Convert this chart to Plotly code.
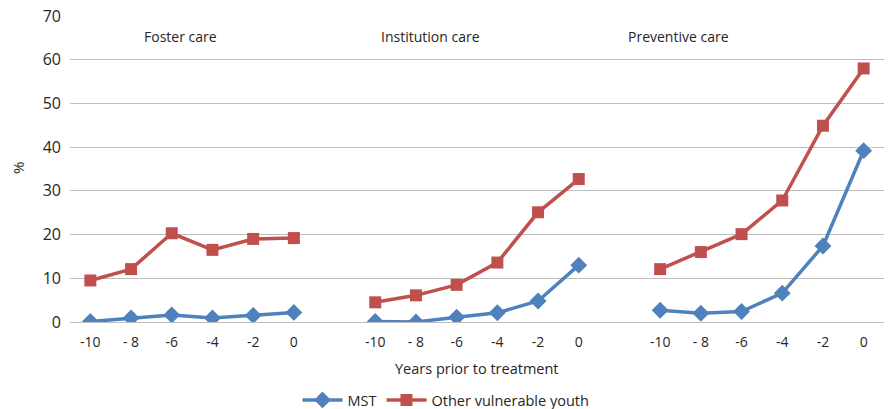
import plotly.graph_objects as go

# ---- data ----
years = ["-10", "- 8", "-6", "-4", "-2", "0"]
groups = ["Foster care", "Institution care", "Preventive care"]

mst_foster = [0.1, 0.9, 1.6, 0.9, 1.5, 2.2]
mst_institution = [0.1, 0.0, 1.1, 2.1, 4.8, 13.0]
mst_preventive = [2.7, 2.0, 2.4, 6.6, 17.4, 39.2]

other_foster = [9.5, 12.1, 20.3, 16.5, 19.0, 19.2]
other_institution = [4.5, 6.1, 8.5, 13.6, 25.1, 32.7]
other_preventive = [12.1, 16.0, 20.1, 27.8, 44.9, 58.0]

series_names = ["MST", "Other vulnerable youth"]
y_ticks = [0, 10, 20, 30, 40, 50, 60, 70]

# ---- build combined category positions (one empty slot between groups) ----
def combine(parts):
    xs, ys = [], []
    pos = 0
    for gi, part in enumerate(parts):
        if gi > 0:
            xs.append(pos)
            ys.append(None)
            pos += 1
        for v in part:
            xs.append(pos)
            ys.append(v)
            pos += 1
    return xs, ys

x_mst, y_mst = combine([mst_foster, mst_institution, mst_preventive])
x_oth, y_oth = combine([other_foster, other_institution, other_preventive])

tickvals, ticktext = [], []
pos = 0
for gi in range(len(groups)):
    if gi > 0:
        pos += 1
    for yl in years:
        tickvals.append(pos)
        ticktext.append(yl)
        pos += 1

blue = "#4F81BD"
red = "#C0504D"
txt = "#262626"
font_family = "Open Sans, Liberation Sans, sans-serif"

fig = go.Figure()
fig.add_trace(go.Scatter(
    x=x_mst, y=y_mst, name=series_names[0], mode="lines+markers",
    line=dict(color=blue, width=3.5),
    marker=dict(symbol="diamond", size=13, color=blue),
    connectgaps=False,
))
fig.add_trace(go.Scatter(
    x=x_oth, y=y_oth, name=series_names[1], mode="lines+markers",
    line=dict(color=red, width=3.5),
    marker=dict(symbol="square", size=12, color=red),
    connectgaps=False,
))

L, T, PW, PH = 70, 16, 814, 306
group_title_x = [180, 430, 678]
annotations = []
for g, gx in zip(groups, group_title_x):
    annotations.append(dict(
        text=g, xref="paper", yref="paper", x=(gx - L) / PW, y=(T + PH - 37) / PH,
        showarrow=False, xanchor="center", yanchor="middle",
        font=dict(size=14, color=txt, family=font_family),
    ))
annotations.append(dict(
    text="Years prior to treatment", xref="paper", yref="paper",
    x=(477 - L) / PW, y=-(368 - T - PH) / PH, showarrow=False,
    xanchor="center", yanchor="middle",
    font=dict(size=14.5, color=txt, family=font_family),
))
annotations.append(dict(
    text="%", xref="paper", yref="paper", x=-(L - 18) / PW, y=(T + PH - 168) / PH,
    showarrow=False, textangle=-90, xanchor="center", yanchor="middle",
    font=dict(size=15, color=txt, family=font_family),
))

fig.update_layout(
    width=889, height=409,
    margin=dict(l=L, r=889 - L - PW, t=T, b=409 - T - PH, autoexpand=False),
    paper_bgcolor="white", plot_bgcolor="white",
    font=dict(family=font_family, color=txt),
    showlegend=True,
    legend=dict(
        orientation="h", xref="paper", yref="paper",
        x=(446 - L) / PW, y=-(400 - T - PH) / PH, xanchor="center", yanchor="middle",
        font=dict(size=14.5, color=txt), itemwidth=40,
        traceorder="normal",
    ),
    annotations=annotations,
    xaxis=dict(
        range=[-0.5, pos - 0.5], tickmode="array", tickvals=tickvals, ticktext=ticktext,
        showgrid=False, zeroline=False, showline=False,
        tickfont=dict(size=14, color=txt), ticklabelstandoff=10,
    ),
    yaxis=dict(
        range=[0, 70], tickmode="array", tickvals=y_ticks,
        showgrid=True, gridcolor="#BDBDBD", gridwidth=1,
        zeroline=True, zerolinecolor="#BDBDBD", zerolinewidth=1,
        showline=False, tickfont=dict(size=16, color=txt), ticklabelstandoff=8,
    ),
)

fig.write_html(
    "out.html",
    config={"displayModeBar": False},
    post_script="document.body.style.margin='0';document.body.style.overflow='hidden';",
)
